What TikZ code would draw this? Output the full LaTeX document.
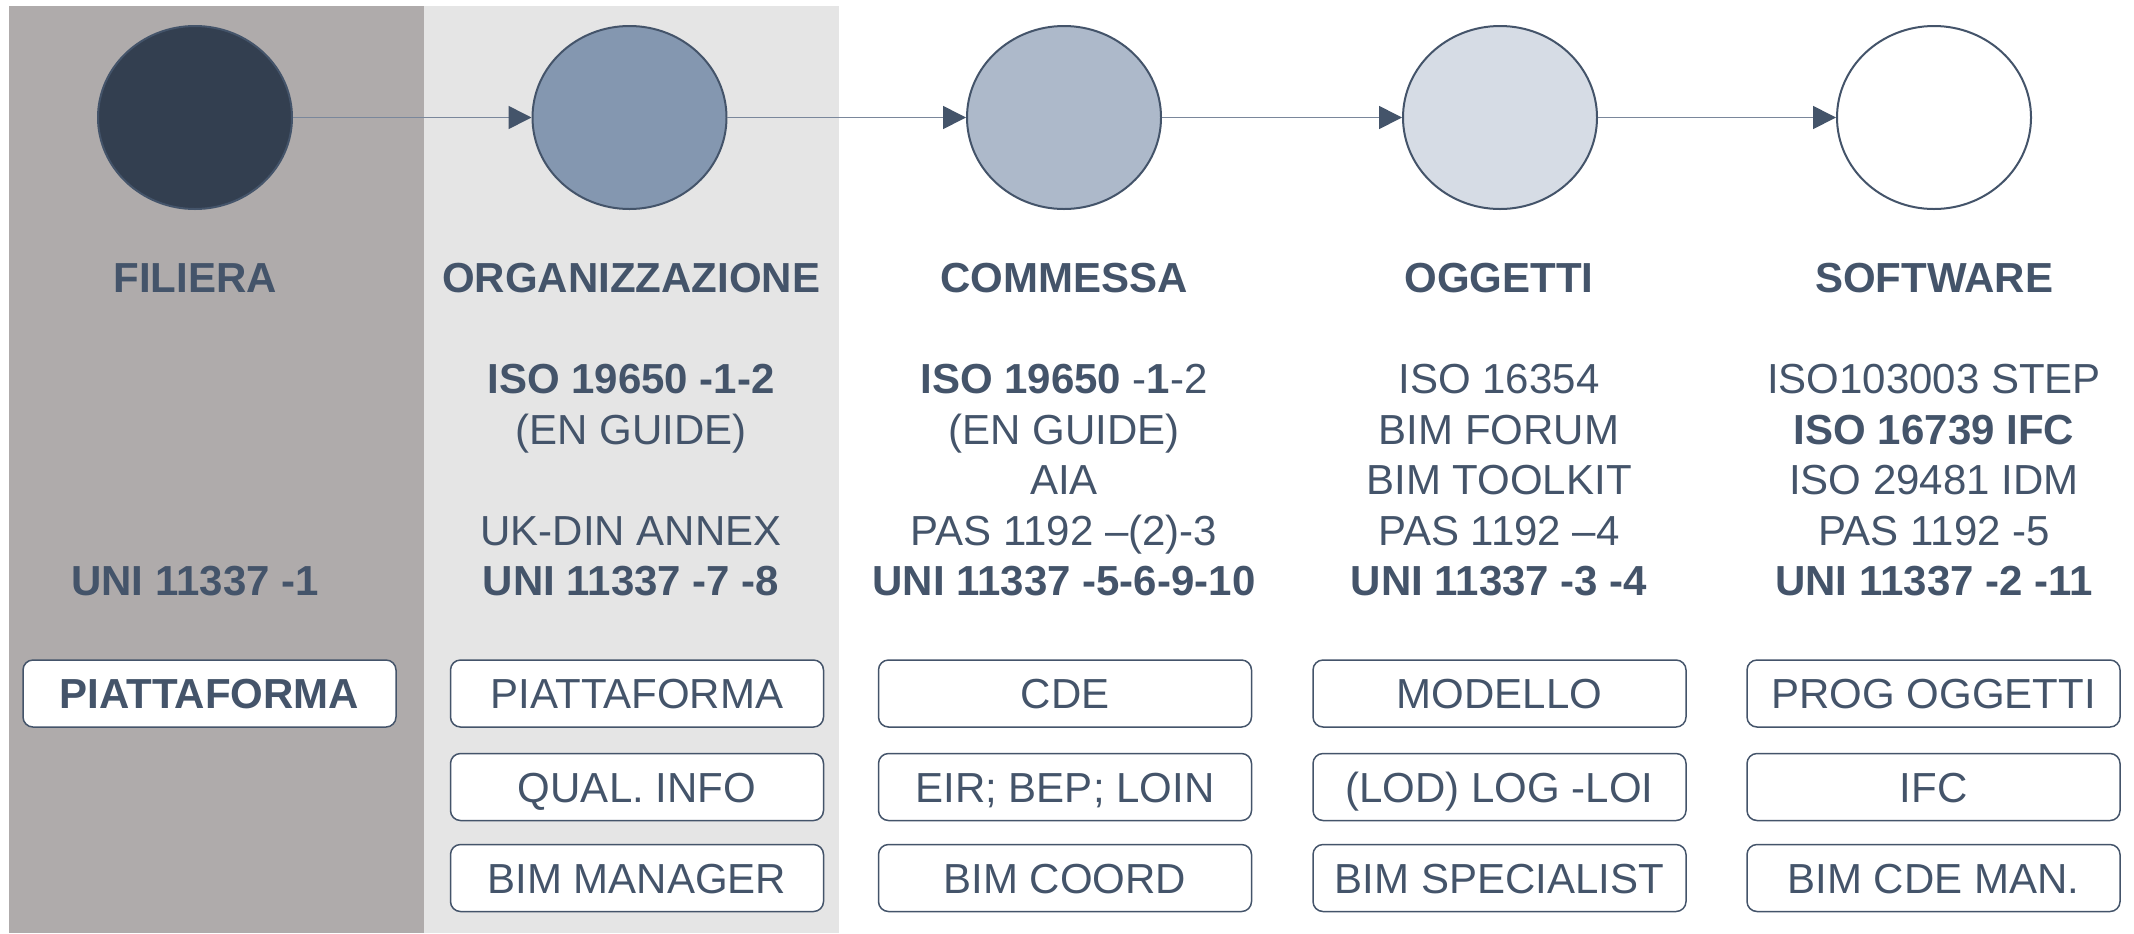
\documentclass[tikz,border=0pt]{standalone}
\usepackage{fontspec}
\setmainfont{Liberation Sans}
\usetikzlibrary{shapes.geometric,arrows.meta}
\definecolor{txt}{HTML}{44546A}
\definecolor{panelA}{HTML}{AFABAB}
\definecolor{panelB}{HTML}{E5E5E5}
\definecolor{fillA}{HTML}{333F50}
\definecolor{fillB}{HTML}{8497B0}
\definecolor{fillC}{HTML}{ADB9CA}
\definecolor{fillD}{HTML}{D6DCE5}
\definecolor{flowline}{HTML}{7A879B}
\tikzset{
  stage/.style={ellipse, draw=txt, line width=1pt, minimum width=97pt, minimum height=91.5pt, inner sep=0pt},
  flow/.style={draw=flowline, line width=0.8pt, -{Triangle[length=11.5pt,width=11.5pt,color=txt]}},
  title/.style={anchor=base, inner sep=0pt, text=txt, font=\fontsize{21pt}{25pt}\selectfont\bfseries},
  norm/.style={anchor=base, inner sep=0pt, text=txt, font=\fontsize{21pt}{25pt}\selectfont},
  normb/.style={norm, font=\fontsize{21pt}{25pt}\selectfont\bfseries},
  tag/.style={draw=txt, fill=white, line width=0.75pt, rounded corners=5pt, minimum width=186.5pt, minimum height=33.5pt, inner sep=0pt, text height=15pt, text depth=0pt, text=txt, font=\fontsize{21pt}{25pt}\selectfont},
  tagb/.style={tag, font=\fontsize{21pt}{25pt}\selectfont\bfseries}
}
\begin{document}
\begin{tikzpicture}[x=0.5pt,y=-0.5pt]
\useasboundingbox (0,0) rectangle (2134,933);
\fill[white] (0,0) rectangle (2134,933);
\fill[panelA] (9,6) rectangle (424,933);
\fill[panelB] (424,6) rectangle (839,933);

% stages
\node[stage, fill=fillA] (c1) at (195,117.5) {};
\node[stage, fill=fillB] (c2) at (629.5,117.5) {};
\node[stage, fill=fillC] (c3) at (1064,117.5) {};
\node[stage, fill=fillD] (c4) at (1500,117.5) {};
\node[stage, fill=white] (c5) at (1934,117.5) {};
\draw[flow] (c1) -- (c2);
\draw[flow] (c2) -- (c3);
\draw[flow] (c3) -- (c4);
\draw[flow] (c4) -- (c5);

% titles
\node[title] (t1) at (195,292) {FILIERA};
\node[title] (t2) at (631,292) {ORGANIZZAZIONE};
\node[title] (t3) at (1064,292) {COMMESSA};
\node[title] (t4) at (1499,292) {OGGETTI};
\node[title] (t5) at (1934,292) {SOFTWARE};

% column 1
\node[normb] (a5) at (195,595) {UNI 11337 -1};
% column 2
\node[normb] (b1) at (631,393) {ISO 19650 -1-2};
\node[norm]  (b2) at (631,444) {(EN GUIDE)};
\node[norm]  (b4) at (631,545) {UK-DIN ANNEX};
\node[normb] (b5) at (631,595) {UNI 11337 -7 -8};
% column 3
\node[norm]  (d1) at (1064,393) {\textbf{ISO 19650} -\textbf{1}-2};
\node[norm]  (d2) at (1064,444) {(EN GUIDE)};
\node[norm]  (d3) at (1064,494.5) {AIA};
\node[norm]  (d4) at (1064,545) {PAS 1192 –(2)-3};
\node[normb] (d5) at (1064,595) {UNI 11337 -5-6-9-10};
% column 4
\node[norm]  (e1) at (1499,393) {ISO 16354};
\node[norm]  (e2) at (1499,444) {BIM FORUM};
\node[norm]  (e3) at (1499,494.5) {BIM TOOLKIT};
\node[norm]  (e4) at (1499,545) {PAS 1192 –4};
\node[normb] (e5) at (1499,595) {UNI 11337 -3 -4};
% column 5
\node[norm]  (f1) at (1934,393) {ISO103003 STEP};
\node[normb] (f2) at (1934,444) {ISO 16739 IFC};
\node[norm]  (f3) at (1934,494.5) {ISO 29481 IDM};
\node[norm]  (f4) at (1934,545) {PAS 1192 -5};
\node[normb] (f5) at (1934,595) {UNI 11337 -2 -11};

% boxes
\node[tagb] (p1) at (209.5,693.5) {PIATTAFORMA};
\node[tag] (q1) at (637,693.5) {PIATTAFORMA};
\node[tag] (q2) at (637,787) {QUAL. INFO};
\node[tag] (q3) at (637,878) {BIM MANAGER};
\node[tag] (r1) at (1065,693.5) {CDE};
\node[tag] (r2) at (1065,787) {EIR; BEP; LOIN};
\node[tag] (r3) at (1065,878) {BIM COORD};
\node[tag] (s1) at (1499.5,693.5) {MODELLO};
\node[tag] (s2) at (1499.5,787) {(LOD) LOG -LOI};
\node[tag] (s3) at (1499.5,878) {BIM SPECIALIST};
\node[tag] (u1) at (1933.5,693.5) {PROG OGGETTI};
\node[tag] (u2) at (1933.5,787) {IFC};
\node[tag] (u3) at (1933.5,878) {BIM CDE MAN.};
\end{tikzpicture}
\end{document}
